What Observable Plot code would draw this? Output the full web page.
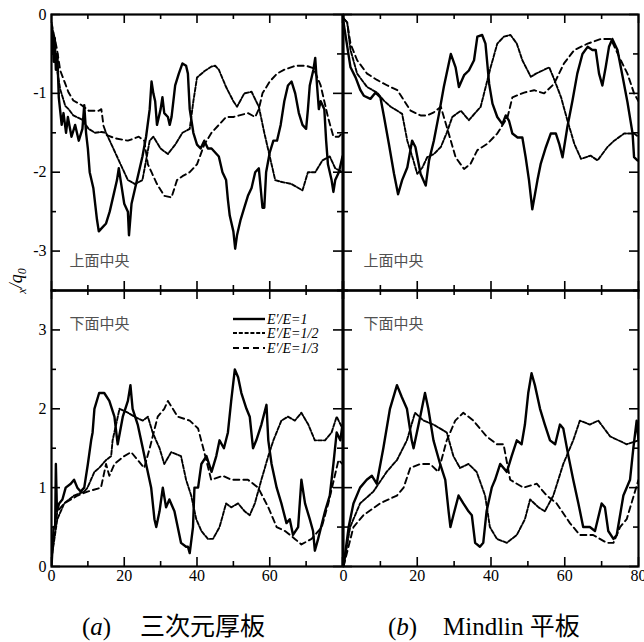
<!DOCTYPE html>
<html><head><meta charset="utf-8">
<script src="https://cdn.jsdelivr.net/npm/d3@7"></script>
<script src="https://cdn.jsdelivr.net/npm/@observablehq/plot@0.6"></script>
<style>
body{margin:0;background:#fff;}
#wrap{position:relative;width:644px;height:642px;overflow:hidden;background:#fff;}
#wrap svg{position:absolute;left:0;top:0;}
</style></head><body><div id="wrap"></div>
<script>
// ---- data (x, value) ----
const seriesNames = ["E′/E=1", "E′/E=1/2", "E′/E=1/3"];
const xLabelTicks = [0, 20, 40, 60, 80];
const xMinorTicks = [0, 10, 20, 30, 40, 50, 60, 70, 80];
const topYLabels = [0, -1, -2, -3];
const bottomYLabels = [0, 1, 2, 3];
const topYTicks = [0, -0.5, -1, -1.5, -2, -2.5, -3, -3.5];
const bottomYTicks = [0, 0.5, 1, 1.5, 2, 2.5, 3, 3.5];
const panelTags = ["上面中央", "下面中央"];
const captions = ["三次元厚板", "Mindlin 平板"];

// (a) thick plate, top centre
const aTop1 = [[0,-0.5],[0.3,-0.2],[0.6,-0.6],[0.9,-0.3],[1.2,-0.7],[1.6,-0.5],[2,-1.05],[2.8,-1.4],[3.3,-1.25],[4,-1.5],[4.5,-1.3],[5.5,-1.55],[6.5,-1.4],[7.5,-1.6],[8.5,-1.45],[9,-1.15],[9.5,-1.5],[10,-1.7],[10.5,-2.0],[11.5,-2.2],[12.5,-2.6],[13,-2.75],[14,-2.7],[15,-2.65],[16,-2.5],[17,-2.3],[18,-2.1],[18.5,-1.95],[19,-2.1],[20,-2.4],[21,-2.5],[21.3,-2.8],[22,-2.4],[23,-2.2],[24,-2.0],[25,-1.8],[26,-1.55],[27,-1.2],[27.5,-0.85],[28,-1.0],[28.5,-1.1],[29,-1.4],[30,-1.2],[30.5,-1.05],[31,-1.25],[32,-1.3],[32.5,-1.4],[33,-1.3],[34,-0.9],[35,-0.75],[36,-0.62],[37,-0.65],[37.5,-0.75],[38,-1.2],[39,-1.5],[40,-1.65],[41,-1.7],[42,-1.6],[43,-1.7],[44,-1.7],[45,-1.75],[46,-1.8],[47,-2.0],[48,-2.1],[48.5,-2.35],[49,-2.55],[50,-2.75],[50.5,-2.97],[51,-2.8],[52,-2.6],[53,-2.45],[54,-2.3],[55,-2.2],[56,-2.0],[57,-1.95],[57.5,-2.2],[58,-2.45],[58.5,-2.45],[59,-2.0],[60,-1.75],[61,-1.6],[62,-1.6],[63,-1.4],[64,-1.1],[65,-0.9],[66,-0.85],[67,-1.0],[68,-1.25],[69,-1.4],[70,-1.45],[70.5,-1.2],[71,-0.9],[72,-0.7],[72.5,-0.55],[73,-0.9],[73.5,-1.2],[74,-1.1],[75,-1.2],[75.5,-1.6],[76,-1.9],[77,-2.1],[77.5,-2.25],[78,-2.1],[79,-2.0],[80,-1.8]];
const aTop2 = [[0,-0.15],[0.55,-0.4],[1.5,-0.69],[2.4,-0.95],[3.8,-1.16],[4.7,-1.2],[6,-1.28],[8.3,-1.33],[10.2,-1.45],[12,-1.5],[13.7,-1.49],[15,-1.5],[17,-1.7],[19,-1.9],[21,-2.1],[23,-2.15],[25,-2.1],[26,-1.85],[27,-1.6],[28,-1.55],[30,-1.7],[32,-1.77],[34,-1.65],[36,-1.5],[38,-1.45],[39,-1.1],[40,-0.8],[42,-0.72],[44,-0.66],[45,-0.65],[46,-0.7],[48,-0.92],[50,-1.1],[51,-1.17],[53,-1.0],[55,-0.98],[57,-1.17],[58.5,-1.5],[60,-1.8],[61.5,-2.1],[63,-2.12],[66,-2.15],[69,-2.23],[70.5,-2.0],[72.5,-2.0],[74.5,-1.85],[76.5,-1.8],[78,-1.95],[80,-2.0]];
const aTop3 = [[0,-0.1],[0.55,-0.23],[1.5,-0.44],[2.4,-0.71],[3.8,-0.88],[4.7,-0.99],[6,-1.09],[8.3,-1.15],[10.2,-1.22],[13,-1.22],[13.7,-1.2],[14.3,-1.41],[15.2,-1.53],[17.5,-1.57],[21,-1.6],[24,-1.55],[25.5,-1.6],[26.5,-1.9],[27.5,-2.0],[29,-2.15],[31,-2.3],[33,-2.32],[34.5,-2.1],[36,-2.05],[38,-2.0],[40,-1.9],[42,-1.65],[44,-1.5],[46,-1.4],[48,-1.3],[50,-1.3],[54,-1.25],[56,-1.3],[57,-1.2],[58,-1.0],[60,-0.85],[62,-0.75],[64,-0.7],[67,-0.65],[70,-0.65],[72,-0.68],[74,-0.9],[76,-1.3],[77.5,-1.55],[79,-1.55],[80,-1.5]];

// (a) thick plate, bottom centre
const aBot1 = [[0,0],[0.6,0.5],[1.0,0.5],[1.2,1.3],[1.5,0.7],[2.1,0.8],[3,0.85],[3.9,1.0],[5.3,1.05],[6.2,1.1],[7.1,1.0],[8,0.95],[9,1.0],[10,1.3],[10.9,1.6],[11.3,1.7],[11.8,2.0],[13.1,2.2],[14.5,2.2],[15.9,2.1],[17.3,1.9],[18.2,1.55],[19.6,1.9],[21,2.1],[21.7,2.3],[22.3,2.0],[23.7,1.8],[25.1,1.5],[26,1.3],[27.4,1.0],[28.3,0.6],[28.8,0.5],[29.7,0.7],[30.6,1.0],[31.5,0.75],[32.4,0.85],[33.8,0.7],[34.7,0.5],[35.6,0.3],[37,0.25],[37.5,0.25],[38,0.17],[38.9,0.5],[39.3,1.0],[40.3,1.0],[41.2,1.3],[42.6,1.4],[44,1.2],[45.3,1.4],[46.2,1.6],[47.4,1.5],[48.5,1.7],[49.4,2.1],[50.4,2.5],[51.3,2.4],[52.2,2.2],[53.6,2.0],[54.5,1.9],[55.4,1.5],[56.3,1.6],[57.7,1.8],[59.1,2.05],[59.6,1.6],[60.5,1.3],[61.9,1.0],[63.2,0.8],[64.6,0.55],[65.5,0.6],[66.4,0.4],[67.8,0.5],[68.7,1.1],[69.7,0.8],[71,0.6],[71.9,0.45],[72.4,0.2],[73.3,0.35],[75.2,0.7],[76.5,0.9],[77.5,1.3],[78.4,1.7],[79.4,1.6],[80,1.8]];
const aBot2 = [[0,0.1],[1.6,0.6],[3.5,0.8],[6.2,0.9],[9,0.95],[9.9,1.0],[11.8,1.2],[13.1,1.25],[15,1.35],[16.4,1.4],[16.8,1.6],[18.7,2.0],[21,1.95],[22.8,1.9],[25.1,1.85],[26.5,1.9],[27.8,1.7],[29.7,1.5],[31,1.3],[32.9,1.45],[35.6,1.4],[37,1.1],[38.4,0.9],[39.8,0.6],[41.2,0.45],[43,0.35],[44.4,0.35],[46.2,0.5],[48,0.8],[49.4,0.75],[51.3,0.8],[53.1,0.7],[54.5,0.65],[55.9,0.8],[57.7,1.1],[59.6,1.4],[61,1.6],[63.2,1.85],[65,1.9],[66.9,1.85],[68.7,1.95],[70.6,1.8],[72.4,1.6],[75.2,1.6],[77,1.7],[78.4,1.9],[80,1.75]];
const aBot3 = [[0,0.1],[1.6,0.7],[3.5,0.8],[7.2,0.9],[9.9,0.95],[13.6,1.0],[15,1.3],[15.9,1.15],[17.3,1.3],[20,1.4],[21.9,1.45],[23.7,1.35],[25.5,1.25],[27,1.5],[29.2,1.9],[31,2.0],[32,2.1],[34.7,1.9],[38,1.85],[40.3,1.75],[42,1.45],[43.9,1.1],[47.1,1.15],[49.4,1.1],[54,1.1],[56.8,1.0],[59.6,0.75],[61.9,0.5],[64.2,0.45],[66.9,0.35],[68.7,0.28],[71.5,0.35],[74.3,0.5],[76.1,0.8],[78.9,1.35],[80,1.3]];

// (b) Mindlin plate, top centre
const bTop1 = [[0,-0.1],[1.9,-0.67],[3.3,-0.8],[4.6,-0.96],[5.5,-1.03],[7.3,-1.07],[8.7,-0.99],[10,-1.05],[11,-1.3],[12.3,-1.64],[13.7,-2.02],[14.8,-2.28],[15.9,-2.1],[17.3,-1.94],[18.6,-1.6],[19.5,-1.68],[20.9,-2.02],[22.3,-2.17],[23.2,-1.85],[24.5,-1.6],[25.9,-1.26],[27.2,-0.92],[29.1,-0.5],[30.4,-0.67],[31.3,-0.92],[32.7,-0.77],[34,-0.71],[35.4,-0.58],[36.3,-0.28],[37.6,-0.26],[38.5,-0.37],[39.5,-0.88],[40.4,-1.13],[41.7,-1.3],[43.1,-1.39],[44,-1.28],[44.9,-1.35],[45.8,-1.51],[47.2,-1.56],[48.5,-1.56],[49.4,-1.81],[50.3,-2.1],[51.2,-2.47],[52.6,-2.1],[53.5,-1.89],[54.9,-1.68],[56.2,-1.51],[57.6,-1.51],[58.5,-1.64],[59.4,-1.81],[60.7,-1.43],[62.1,-1.09],[63.4,-0.75],[64.8,-0.5],[66.2,-0.41],[67.5,-0.45],[68.4,-0.45],[69.3,-0.75],[70.2,-0.9],[71.1,-0.67],[72,-0.41],[72.9,-0.31],[74.3,-0.45],[75.7,-0.79],[77,-1.11],[78.4,-1.51],[78.8,-1.81],[79.7,-1.85]];
const bTop2 = [[0,-0.05],[1,-0.1],[1.9,-0.45],[3.7,-0.75],[6.4,-0.92],[9.1,-0.99],[10.9,-1.09],[12.8,-1.17],[14.6,-1.22],[15.9,-1.26],[17.3,-1.6],[18.7,-1.81],[20,-2.02],[21.4,-1.94],[22.7,-1.81],[24.5,-1.77],[26.4,-1.68],[28,-1.5],[29.5,-1.3],[31.8,-1.22],[34,-1.34],[37.2,-1.17],[39.9,-0.67],[41.7,-0.37],[43.5,-0.28],[45.3,-0.26],[47,-0.37],[48.5,-0.58],[50.8,-0.79],[52.2,-0.75],[54,-0.71],[55.8,-0.67],[57.2,-0.83],[59,-1.05],[60.7,-1.34],[62.6,-1.64],[64.4,-1.83],[67,-1.79],[68.9,-1.85],[71.6,-1.68],[73.4,-1.6],[76.1,-1.51],[78.8,-1.51],[80,-1.55]];
const bTop3 = [[0,-0.05],[1,-0.1],[1.9,-0.37],[3.7,-0.58],[6.4,-0.75],[9.1,-0.83],[11.9,-0.9],[14.6,-0.96],[16.4,-1.09],[18.2,-1.22],[20.9,-1.28],[22.7,-1.28],[24.5,-1.24],[26.4,-1.17],[29.1,-1.6],[30.4,-1.81],[32.7,-1.96],[34.5,-1.89],[36.3,-1.72],[39,-1.64],[41.7,-1.51],[44.5,-1.3],[45.8,-1.05],[49,-0.99],[51.7,-0.96],[54.4,-1.0],[57.1,-0.88],[59.8,-0.62],[62.6,-0.45],[66.2,-0.37],[69.8,-0.31],[72.5,-0.31],[75.2,-0.58],[77,-0.75],[78.8,-1.0],[80,-1.1]];

// (b) Mindlin plate, bottom centre
const bBot1 = [[0,0],[1.4,0.5],[2.7,0.8],[4.5,1.0],[6.3,1.1],[7.7,1.15],[9,1.05],[10.8,1.5],[12.6,2.0],[14.5,2.3],[15.8,2.15],[17.2,2.0],[18.5,1.6],[19,1.5],[20.8,1.9],[22.1,2.2],[23,2.0],[24.4,1.6],[26.2,1.3],[27.6,1.1],[28.5,0.7],[29,0.5],[29.8,0.65],[31.2,0.9],[32.5,0.8],[33.9,0.7],[34.8,0.65],[35.7,0.3],[37,0.25],[37.9,0.3],[38.8,0.7],[40.2,1.0],[41.1,1.1],[42.5,1.3],[44.3,1.2],[45.6,1.4],[47,1.6],[48.3,1.55],[49.2,1.8],[50.1,2.2],[51,2.45],[51.9,2.3],[53.3,2.0],[54.6,1.8],[56,1.6],[57.4,1.55],[58.7,1.8],[59.6,1.75],[61,1.4],[62.3,1.1],[63.7,0.8],[65,0.5],[66.8,0.5],[68.2,0.45],[70,0.8],[70.9,0.75],[71.8,0.45],[73.2,0.35],[74.1,0.4],[75.9,0.9],[77.7,1.1],[78.6,1.5],[79.5,1.85],[80,1.6]];
const bBot2 = [[0,0],[1.8,0.5],[4.5,0.8],[8.1,0.95],[11.7,1.2],[14.5,1.35],[17.2,1.6],[19.4,1.95],[21.7,1.85],[24.4,1.8],[28,1.7],[29.8,1.4],[31.6,1.25],[33.9,1.3],[36.1,1.2],[38.4,0.9],[39.7,0.5],[41.6,0.35],[44.3,0.3],[47,0.4],[49.2,0.6],[50.6,0.85],[52.9,0.75],[54.6,0.7],[56.9,0.9],[59.6,1.3],[62.3,1.6],[64.1,1.85],[66.8,1.8],[69.1,1.85],[72.3,1.65],[76.8,1.55],[80,1.6]];
const bBot3 = [[0,0],[2.7,0.5],[5.4,0.65],[9.9,0.8],[14.5,0.9],[16.3,1.0],[18.1,1.25],[20.8,1.3],[23.5,1.3],[25.7,1.2],[28,1.6],[30.3,1.85],[32.5,1.95],[35.2,1.85],[38.8,1.65],[41.6,1.55],[43.4,1.55],[45.2,1.1],[48.8,1.0],[52.4,1.05],[55.1,0.9],[57.8,0.8],[61.4,0.55],[64.1,0.4],[67.7,0.4],[71.4,0.3],[73.2,0.3],[75,0.5],[76.8,0.6],[80,1.1]];

// ---- drawing ----
const W = 644, H = 642;
const lineStyles = [
  {w: 2.4, dash: null},
  {w: 1.9, dash: "4,1.8"},
  {w: 1.9, dash: "6,4"}
];
const serif = "Liberation Serif, Times New Roman, serif";
const cjk = "Noto Sans CJK JP";

function panel({series, yDomain, left, right, top, bottom, yTicks, yLabels, xLabels, tag, tagAnchor, tagDy, tagDx}) {
  const innerW = right - left, innerH = bottom - top;
  const marks = [];
  series.forEach((s, i) => {
    marks.push(Plot.line(s, {x: d => d[0], y: d => d[1], stroke: "#000",
      strokeWidth: lineStyles[i].w, strokeDasharray: lineStyles[i].dash, clip: true}));
  });
  const maj = 9, mnr = 5;
  const xMaj = xMinorTicks.filter(d => d % 20 === 0), xMin = xMinorTicks.filter(d => d % 20 !== 0);
  const yMaj = yTicks.filter(d => Number.isInteger(d)), yMin = yTicks.filter(d => !Number.isInteger(d));
  const tk = {stroke: "#000", strokeWidth: 1.6};
  marks.push(
    Plot.tickX(xMaj, {x: d => d, insetTop: innerH - maj, ...tk}),
    Plot.tickX(xMin, {x: d => d, insetTop: innerH - mnr, ...tk}),
    Plot.tickX(xMaj, {x: d => d, insetBottom: innerH - maj, ...tk}),
    Plot.tickX(xMin, {x: d => d, insetBottom: innerH - mnr, ...tk}),
    Plot.tickY(yMaj, {y: d => d, insetRight: innerW - maj, ...tk}),
    Plot.tickY(yMin, {y: d => d, insetRight: innerW - mnr, ...tk}),
    Plot.tickY(yMaj, {y: d => d, insetLeft: innerW - maj, ...tk}),
    Plot.tickY(yMin, {y: d => d, insetLeft: innerW - mnr, ...tk}),
    Plot.frame({stroke: "#000", strokeWidth: 2.2}),
    Plot.text([tag], {text: d => d, frameAnchor: tagAnchor, dx: tagDx, dy: tagDy, textAnchor: "start",
      fontSize: 15, fill: "#505050", fontFamily: cjk})
  );
  if (yLabels) marks.push(Plot.axisY({anchor: "left", ticks: yLabels, tickSize: 0, tickPadding: 5,
    tickFormat: d => String(d), fontSize: 16, fontFamily: serif, fill: "#000"}));
  if (xLabels) marks.push(Plot.axisX({anchor: "bottom", ticks: xLabels, tickSize: 0, tickPadding: 3,
    tickFormat: d => String(d), fontSize: 16, fontFamily: serif, fill: "#000"}));
  return Plot.plot({
    width: W, height: H,
    marginLeft: left, marginRight: W - right, marginTop: top, marginBottom: H - bottom,
    x: {domain: [0, 80], axis: null},
    y: {domain: yDomain, axis: null},
    style: {background: "transparent", overflow: "visible", fontFamily: serif},
    marks
  });
}

const wrap = document.getElementById("wrap");
const L0 = 51, L1 = 342, R0 = 343, R1 = 638, T0 = 14, MID = 290, B1 = 566;
wrap.append(panel({series: [aTop1, aTop2, aTop3], yDomain: [-3.5, 0], left: L0, right: L1, top: T0, bottom: MID,
  yTicks: topYTicks, yLabels: topYLabels, xLabels: null, tag: panelTags[0], tagAnchor: "bottom-left", tagDx: 18, tagDy: -25}));
wrap.append(panel({series: [bTop1, bTop2, bTop3], yDomain: [-3.5, 0], left: R0, right: R1, top: T0, bottom: MID,
  yTicks: topYTicks, yLabels: null, xLabels: null, tag: panelTags[0], tagAnchor: "bottom-left", tagDx: 20, tagDy: -25}));
wrap.append(panel({series: [aBot1, aBot2, aBot3], yDomain: [0, 3.5], left: L0, right: L1, top: MID, bottom: B1,
  yTicks: bottomYTicks, yLabels: bottomYLabels, xLabels: xLabelTicks.slice(0, 4), tag: panelTags[1], tagAnchor: "top-left", tagDx: 18, tagDy: 28}));
wrap.append(panel({series: [bBot1, bBot2, bBot3], yDomain: [0, 3.5], left: R0, right: R1, top: MID, bottom: B1,
  yTicks: bottomYTicks, yLabels: null, xLabels: xLabelTicks, tag: panelTags[1], tagAnchor: "top-left", tagDx: 20, tagDy: 28}));

// overlay: y title, legend, captions
const ov = d3.select(wrap).append("svg").attr("width", W).attr("height", H).style("overflow", "visible");
const yt = ov.append("text").attr("transform", "translate(22,281) rotate(-90)").attr("text-anchor", "middle")
  .attr("font-family", serif).attr("font-style", "italic").attr("fill", "#000");
yt.append("tspan").attr("font-size", 12).attr("dy", 4).text("x");
yt.append("tspan").attr("font-size", 18).attr("dy", -4).text("/q");
yt.append("tspan").attr("font-size", 12).attr("dy", 4).text("0");

const legY = [319, 333, 348];
seriesNames.forEach((n, i) => {
  ov.append("line").attr("x1", 233).attr("x2", 265).attr("y1", legY[i]).attr("y2", legY[i])
    .attr("stroke", "#000").attr("stroke-width", lineStyles[i].w).attr("stroke-dasharray", lineStyles[i].dash);
  ov.append("text").attr("x", 267).attr("y", legY[i] + 5).attr("font-family", serif).attr("font-style", "italic")
    .attr("font-size", 14).text(n);
});

function caption(x, letter, rest, restX) {
  const t = ov.append("text").attr("x", x).attr("y", 635).attr("font-family", serif).attr("font-size", 25);
  t.append("tspan").text("(");
  t.append("tspan").attr("font-style", "italic").text(letter);
  t.append("tspan").text(")");
  ov.append("text").attr("x", restX).attr("y", 635).attr("font-family", serif + ", " + cjk).attr("font-size", 25).text(rest);
}
caption(82, "a", captions[0], 140);
caption(388, "b", captions[1], 443);
</script></body></html>
